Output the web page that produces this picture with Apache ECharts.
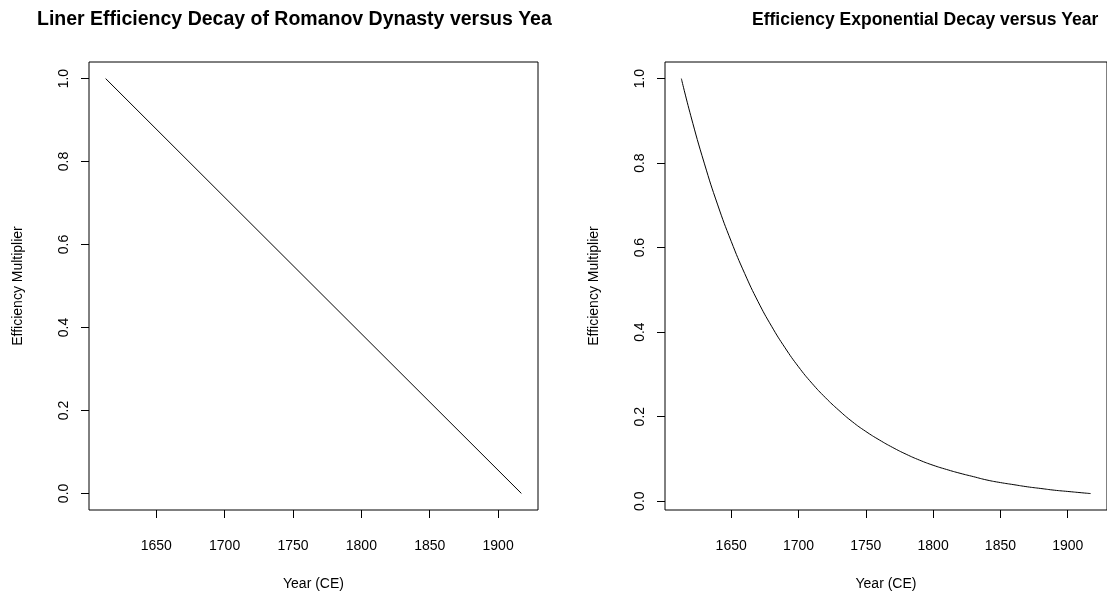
<!DOCTYPE html>
<html>
<head>
<meta charset="utf-8">
<script src="https://cdn.jsdelivr.net/npm/echarts@6/dist/echarts.min.js"></script>
<style>
body { margin: 0; background: #fff; }
#left { position: absolute; left: 0; top: 0; width: 553px; height: 596px; }
#right { position: absolute; left: 553px; top: 0; width: 554px; height: 596px; }
</style>
</head>
<body>
<div id="left"></div>
<div id="right"></div>
<script>
// 线性衰减
var linYears = [1613, 1917];
var linValues = [1, 0];
// 指数衰减
var expYears = [1613, 1620, 1630, 1640, 1650, 1660, 1670, 1680, 1690, 1700,
    1710, 1720, 1730, 1740, 1750, 1760, 1770, 1780, 1790, 1800,
    1810, 1820, 1830, 1840, 1850, 1860, 1870, 1880, 1890, 1900, 1910, 1917];
var expValues = [1.000, 0.912, 0.800, 0.701, 0.615, 0.539, 0.472, 0.414, 0.363, 0.318,
    0.279, 0.245, 0.215, 0.188, 0.165, 0.145, 0.127, 0.111, 0.097, 0.085,
    0.075, 0.066, 0.058, 0.050, 0.044, 0.039, 0.034, 0.030, 0.026, 0.023, 0.020, 0.018];
var xTicks = [1650, 1700, 1750, 1800, 1850, 1900];
var yTicks = [0, 0.2, 0.4, 0.6, 0.8, 1.0];

var FONT = 'Liberation Sans, Arial, Helvetica, sans-serif';

function pairs(xs, ys) {
    var out = [];
    for (var i in xs) {
        out.push([xs[i], ys[i]]);
    }
    return out;
}

function makeOption(p) {
    return {
        animation: false,
        backgroundColor: '#fff',
        graphic: [{
            type: 'text', x: p.titleX, y: 20,
            style: {
                text: p.title, fill: '#000', align: 'left', verticalAlign: 'middle',
                font: 'bold ' + p.titleSize + 'px ' + FONT
            }
        }],
        grid: {
            left: p.gridLeft, top: 62, width: 449, height: 451,
            show: true, borderColor: '#000', borderWidth: 1, containLabel: false
        },
        xAxis: {
            type: 'value', min: 1600.84, max: 1929.16,
            name: 'Year (CE)', nameLocation: 'middle', nameGap: 67,
            nameTextStyle: { color: '#000', fontSize: 14, fontFamily: FONT },
            axisLine: { show: false, onZero: false },
            splitLine: { show: false },
            axisTick: { show: true, length: 8, customValues: xTicks, lineStyle: { color: '#000' } },
            axisLabel: {
                customValues: xTicks, margin: 29, color: '#000', fontSize: 14, fontFamily: FONT,
                formatter: function (v) { return String(v); }
            }
        },
        yAxis: {
            type: 'value', min: p.yMin, max: p.yMax,
            name: 'Efficiency Multiplier', nameLocation: 'middle', nameGap: 64, nameRotate: 90,
            nameTextStyle: { color: '#000', fontSize: 14, fontFamily: FONT },
            axisLine: { show: false, onZero: false },
            splitLine: { show: false },
            axisTick: { show: true, length: 8, customValues: yTicks, lineStyle: { color: '#000' } },
            axisLabel: {
                customValues: yTicks, rotate: 90, margin: 18, color: '#000', fontSize: 14, fontFamily: FONT,
                formatter: function (v) { return v.toFixed(1); }
            }
        },
        series: [{
            type: 'line', data: p.data, showSymbol: false, smooth: p.smooth,
            lineStyle: { color: '#000', width: 1 }, silent: true
        }]
    };
}

var leftChart = echarts.init(document.getElementById('left'));
leftChart.setOption(makeOption({
    title: 'Liner Efficiency Decay of Romanov Dynasty versus Year',
    titleX: 37, titleSize: 19.5, gridLeft: 89, yMin: -0.04, yMax: 1.04,
    data: pairs(linYears, linValues), smooth: false
}));

var rightChart = echarts.init(document.getElementById('right'));
rightChart.setOption(makeOption({
    title: 'Efficiency Exponential Decay versus Year',
    titleX: 752 - 553, titleSize: 17.5, gridLeft: 112, yMin: -0.0209, yMax: 1.0393,
    data: pairs(expYears, expValues), smooth: true
}));
</script>
</body>
</html>
